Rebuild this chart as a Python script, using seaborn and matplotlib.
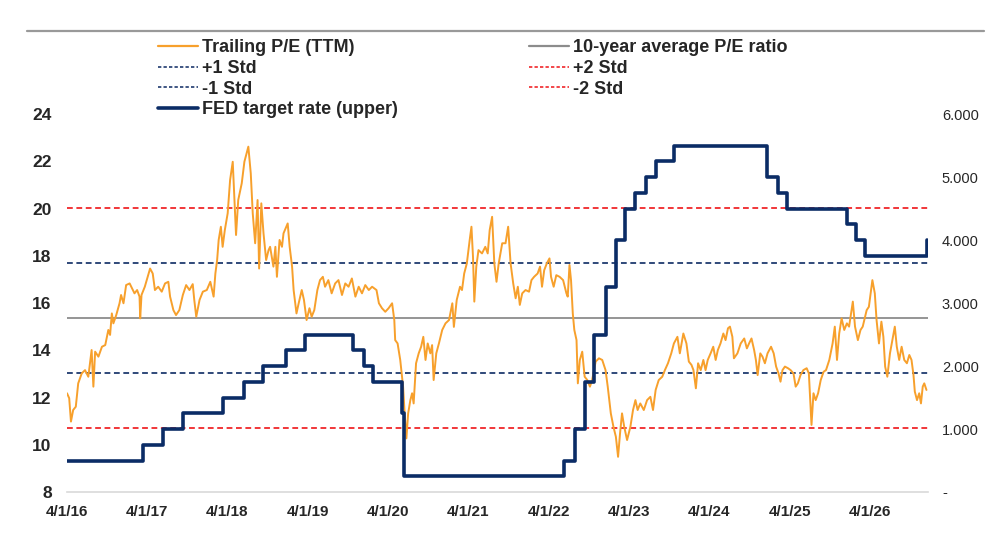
import matplotlib
matplotlib.use("Agg")
import matplotlib.pyplot as plt
from matplotlib.lines import Line2D
import pandas as pd
import seaborn as sns

# ---------------- data ----------------
pe_dates = [
    "2016-04-01", "2016-04-11", "2016-04-19", "2016-04-29", "2016-05-11", "2016-05-22",
    "2016-06-07", "2016-06-22", "2016-07-07", "2016-07-22", "2016-07-30", "2016-08-07",
    "2016-08-22", "2016-09-07", "2016-09-22", "2016-10-06", "2016-10-14", "2016-10-22",
    "2016-10-29", "2016-11-11", "2016-11-26", "2016-12-03", "2016-12-14", "2016-12-26",
    "2017-01-11", "2017-01-22", "2017-02-02", "2017-02-14", "2017-02-25", "2017-02-28",
    "2017-03-06", "2017-03-21", "2017-04-01", "2017-04-14", "2017-04-26", "2017-05-06",
    "2017-05-21", "2017-06-06", "2017-06-21", "2017-07-06", "2017-07-14", "2017-07-29",
    "2017-08-10", "2017-08-25", "2017-09-10", "2017-09-25", "2017-10-10", "2017-10-25",
    "2017-11-01", "2017-11-10", "2017-11-25", "2017-12-10", "2017-12-28", "2018-01-13",
    "2018-01-28", "2018-02-05", "2018-02-13", "2018-02-20", "2018-03-02", "2018-03-10",
    "2018-03-20", "2018-04-02", "2018-04-13", "2018-04-25", "2018-05-02", "2018-05-10",
    "2018-05-20", "2018-06-05", "2018-06-17", "2018-07-05", "2018-07-16", "2018-07-25",
    "2018-08-05", "2018-08-16", "2018-08-23", "2018-09-02", "2018-09-12", "2018-09-24",
    "2018-10-05", "2018-10-12", "2018-10-27", "2018-11-05", "2018-11-12", "2018-11-24",
    "2018-12-05", "2018-12-12", "2018-12-31", "2019-01-09", "2019-01-20", "2019-01-27",
    "2019-02-09", "2019-02-19", "2019-03-05", "2019-03-15", "2019-03-27", "2019-04-09",
    "2019-04-19", "2019-05-01", "2019-05-15", "2019-05-27", "2019-06-09", "2019-06-19",
    "2019-07-04", "2019-07-19", "2019-08-04", "2019-08-19", "2019-09-04", "2019-09-19",
    "2019-10-04", "2019-10-19", "2019-11-04", "2019-11-19", "2019-12-04", "2019-12-19",
    "2020-01-04", "2020-01-19", "2020-02-08", "2020-02-19", "2020-03-04", "2020-03-19",
    "2020-04-03", "2020-04-19", "2020-04-29", "2020-05-03", "2020-05-14", "2020-05-26",
    "2020-06-08", "2020-06-15", "2020-06-23", "2020-07-01", "2020-07-11", "2020-07-19",
    "2020-07-26", "2020-08-06", "2020-08-18", "2020-08-29", "2020-09-08", "2020-09-18",
    "2020-09-28", "2020-10-10", "2020-10-18", "2020-10-25", "2020-11-06", "2020-11-18",
    "2020-12-03", "2020-12-18", "2021-01-03", "2021-01-18", "2021-01-25", "2021-02-07",
    "2021-02-22", "2021-03-03", "2021-03-13", "2021-03-25", "2021-04-07", "2021-04-15",
    "2021-04-22", "2021-04-28", "2021-05-07", "2021-05-17", "2021-06-02", "2021-06-17",
    "2021-06-28", "2021-07-07", "2021-07-18", "2021-07-28", "2021-08-07", "2021-08-17",
    "2021-09-02", "2021-09-17", "2021-09-29", "2021-10-10", "2021-10-22", "2021-11-02",
    "2021-11-12", "2021-11-21", "2021-12-02", "2021-12-17", "2022-01-02", "2022-01-13",
    "2022-01-25", "2022-02-10", "2022-02-21", "2022-03-02", "2022-03-12", "2022-03-24",
    "2022-04-05", "2022-04-12", "2022-04-24", "2022-05-06", "2022-05-21", "2022-06-06",
    "2022-06-21", "2022-06-27", "2022-07-05", "2022-07-12", "2022-07-20", "2022-07-27",
    "2022-08-06", "2022-08-12", "2022-08-21", "2022-09-01", "2022-09-12", "2022-09-24",
    "2022-10-06", "2022-10-16", "2022-11-01", "2022-11-16", "2022-12-01", "2022-12-16",
    "2022-12-26", "2023-01-09", "2023-01-21", "2023-02-01", "2023-02-11", "2023-02-20",
    "2023-03-01", "2023-03-11", "2023-03-24", "2023-04-08", "2023-04-20", "2023-05-01",
    "2023-05-11", "2023-05-23", "2023-06-08", "2023-06-23", "2023-07-08", "2023-07-20",
    "2023-08-01", "2023-08-15", "2023-08-31", "2023-09-12", "2023-09-26", "2023-10-11",
    "2023-10-23", "2023-11-08", "2023-11-19", "2023-12-05", "2023-12-19", "2023-12-30",
    "2024-01-11", "2024-01-20", "2024-01-31", "2024-02-10", "2024-02-22", "2024-03-05",
    "2024-03-15", "2024-03-25", "2024-04-07", "2024-04-19", "2024-04-30", "2024-05-10",
    "2024-05-22", "2024-06-04", "2024-06-14", "2024-06-25", "2024-07-04", "2024-07-15",
    "2024-07-22", "2024-08-07", "2024-08-22", "2024-09-07", "2024-09-19", "2024-09-29",
    "2024-10-10", "2024-10-22", "2024-10-30", "2024-11-07", "2024-11-19", "2024-11-29",
    "2024-12-10", "2024-12-22", "2025-01-07", "2025-01-19", "2025-01-30", "2025-02-10",
    "2025-02-19", "2025-02-28", "2025-03-11", "2025-03-25", "2025-04-06", "2025-04-19",
    "2025-04-29", "2025-05-09", "2025-05-21", "2025-06-03", "2025-06-18", "2025-06-28",
    "2025-07-10", "2025-07-19", "2025-07-29", "2025-08-09", "2025-08-21", "2025-09-03",
    "2025-09-14", "2025-09-29", "2025-10-14", "2025-10-24", "2025-11-03", "2025-11-13",
    "2025-11-24", "2025-12-06", "2025-12-18", "2025-12-28", "2026-01-14", "2026-01-24",
    "2026-02-06", "2026-02-18", "2026-02-28", "2026-03-09", "2026-03-18", "2026-03-28",
    "2026-04-13", "2026-04-24", "2026-05-02", "2026-05-13", "2026-05-24", "2026-06-02",
    "2026-06-10", "2026-06-20", "2026-07-02", "2026-07-13", "2026-07-24", "2026-08-02",
    "2026-08-13", "2026-08-24", "2026-09-05", "2026-09-17", "2026-09-28", "2026-10-08",
    "2026-10-17", "2026-10-23", "2026-11-02", "2026-11-12", "2026-11-20", "2026-11-28",
    "2026-12-05", "2026-12-15",
]
pe_values = [
    12.18, 11.97, 10.98, 11.47, 11.61, 12.60,
    13.02, 13.16, 12.88, 14.01, 12.46, 13.94,
    13.73, 14.15, 14.22, 14.86, 14.65, 15.56,
    15.14, 15.49, 15.99, 16.34, 15.99, 16.76,
    16.83, 16.62, 16.41, 16.55, 16.27, 15.35,
    16.34, 16.69, 17.04, 17.46, 17.25, 16.55,
    16.69, 16.48, 16.83, 16.90, 16.27, 15.70,
    15.49, 15.70, 16.34, 16.76, 16.55, 16.80,
    16.13, 15.42, 16.13, 16.48, 16.55, 16.90,
    16.27, 17.25, 17.82, 18.67, 19.23, 18.38,
    19.09, 19.80, 21.21, 21.98, 20.50, 18.88,
    20.36, 21.07, 21.98, 22.62, 21.49, 19.80,
    18.53, 20.36, 17.46, 20.22, 18.95, 17.82,
    18.24, 18.38, 17.54, 18.38, 17.11, 18.67,
    18.38, 18.95, 19.37, 18.38, 17.54, 16.55,
    15.56, 15.99, 16.55, 16.13, 15.28, 15.78,
    15.42, 15.70, 16.55, 16.97, 17.11, 16.69,
    16.97, 16.41, 16.83, 16.97, 16.34, 16.83,
    16.69, 17.04, 16.27, 16.69, 16.41, 16.76,
    16.55, 16.69, 16.55, 15.99, 15.78, 15.63,
    15.78, 15.99, 15.28, 14.43, 14.29, 13.59,
    12.46, 11.33, 10.27, 11.33, 11.89, 12.18,
    11.75, 13.45, 13.87, 14.15, 14.57, 13.59,
    14.29, 13.87, 14.22, 12.74, 13.87, 14.29,
    14.86, 15.14, 15.28, 15.99, 14.99, 16.13,
    16.69, 16.55, 17.25, 17.68, 18.67, 19.23,
    17.96, 16.06, 17.54, 18.24, 18.10, 18.38,
    18.10, 19.09, 19.65, 17.68, 16.90, 17.68,
    18.53, 18.53, 19.23, 17.68, 16.83, 16.20,
    16.69, 15.92, 16.41, 16.55, 16.48, 16.97,
    17.11, 17.25, 17.54, 16.69, 17.39, 17.68,
    17.89, 17.11, 16.69, 17.18, 17.11, 16.97,
    16.41, 16.27, 17.61, 16.97, 15.56, 14.86,
    14.43, 12.60, 13.59, 13.94, 12.88, 12.74,
    12.46, 12.74, 13.52, 13.66, 13.59, 13.16,
    12.46, 11.33, 10.76, 10.34, 9.49, 10.48,
    11.33, 10.76, 10.20, 10.76, 11.47, 11.89,
    11.47, 11.75, 11.47, 11.89, 12.03, 11.47,
    12.32, 12.74, 12.88, 13.16, 13.45, 13.87,
    14.29, 14.57, 13.87, 14.71, 14.29, 13.52,
    13.38, 13.16, 12.39, 13.45, 13.16, 13.59,
    13.16, 13.59, 13.87, 14.15, 13.59, 14.01,
    14.29, 14.71, 14.43, 14.93, 15.00, 14.57,
    13.66, 13.87, 14.29, 14.50, 14.08, 14.29,
    14.50, 14.01, 13.59, 12.95, 13.87, 13.73,
    13.45, 13.87, 14.15, 13.87, 13.31, 13.02,
    12.67, 13.16, 13.31, 13.24, 13.16, 13.02,
    12.46, 12.60, 12.95, 13.16, 13.24, 13.02,
    10.84, 12.18, 11.89, 12.18, 12.74, 13.09,
    13.16, 13.59, 14.29, 15.00, 13.59, 14.71,
    15.35, 14.86, 15.14, 15.00, 16.06, 15.00,
    14.43, 14.86, 15.00, 15.35, 15.70, 15.84,
    16.97, 16.41, 15.28, 14.29, 15.21, 14.57,
    13.31, 12.88, 13.87, 14.43, 15.00, 14.15,
    13.59, 14.15, 13.59, 13.45, 13.80, 13.59,
    12.95, 12.25, 11.89, 12.18, 11.75, 12.46,
    12.60, 12.32,
]

fed_dates = [
    "2016-04-01", "2017-03-12", "2017-06-12", "2017-09-12", "2018-03-11", "2018-06-15",
    "2018-09-11", "2018-12-24", "2019-03-20", "2019-10-25", "2019-12-14", "2020-01-25",
    "2020-06-03", "2020-06-10", "2022-06-09", "2022-07-29", "2022-09-12", "2022-10-24",
    "2022-12-19", "2023-02-02", "2023-03-15", "2023-05-01", "2023-06-19", "2023-08-01",
    "2023-10-23", "2024-12-19", "2025-02-09", "2025-03-19", "2025-12-18", "2026-01-27",
    "2026-03-09", "2026-12-17",
]
fed_rates = [
    0.50, 0.75, 1.00, 1.25, 1.50, 1.75,
    2.00, 2.25, 2.50, 2.25, 2.00, 1.75,
    1.25, 0.25, 0.50, 1.00, 1.75, 2.50,
    3.25, 4.00, 4.50, 4.75, 5.00, 5.25,
    5.50, 5.00, 4.75, 4.50, 4.25, 4.00,
    3.75, 4.00,
]

pe_average = 15.37     # 10-year average P/E
pe_std = 2.33          # standard deviation

x_tick_dates = ["2016-04-01", "2017-04-01", "2018-04-01", "2019-04-01", "2020-04-01",
                "2021-04-01", "2022-04-01", "2023-04-01", "2024-04-01", "2025-04-01",
                "2026-04-01"]
x_tick_labels = ["4/1/16", "4/1/17", "4/1/18", "4/1/19", "4/1/20", "4/1/21",
                 "4/1/22", "4/1/23", "4/1/24", "4/1/25", "4/1/26"]
x_range = ["2016-04-01", "2026-12-22"]
left_ticks = [8, 10, 12, 14, 16, 18, 20, 22, 24]
right_ticks = [0, 1, 2, 3, 4, 5, 6]

legend_labels = ["Trailing P/E (TTM)", "+1 Std", "-1 Std", "FED target rate (upper)",
                 "10-year average P/E ratio", "+2 Std", "-2 Std"]

# ---------------- styling ----------------
sns.set_style("white")
plt.rcParams["font.family"] = ["Liberation Sans", "DejaVu Sans"]

ORANGE = "#F7A02C"
NAVY = "#0B2C66"
DNAVY = "#1F3A6E"
RED = "#F0262A"
GREY = "#8C8C8C"

pe_df = pd.DataFrame({"date": pd.to_datetime(pe_dates), "pe": pe_values})
fed_df = pd.DataFrame({"date": pd.to_datetime(fed_dates), "rate": fed_rates})

fig = plt.figure(figsize=(10, 5.38), dpi=100)
ax = fig.add_axes([0.067, 0.0855, 0.861, 0.7025])
ax2 = ax.twinx()

dash = (0, (3.2, 2.0))
ax.axhline(pe_average + pe_std, color=DNAVY, lw=1.3, ls=dash, zorder=1)
ax.axhline(pe_average - pe_std, color=DNAVY, lw=1.3, ls=dash, zorder=1)
ax.axhline(pe_average + 2 * pe_std, color=RED, lw=1.3, ls=dash, zorder=1)
ax.axhline(pe_average - 2 * pe_std, color=RED, lw=1.3, ls=dash, zorder=1)
ax.axhline(pe_average, color=GREY, lw=1.3, zorder=1)

sns.lineplot(data=pe_df, x="date", y="pe", ax=ax, color=ORANGE, lw=1.4, zorder=3)
sns.lineplot(data=fed_df, x="date", y="rate", ax=ax2, color=NAVY, lw=2.6,
             drawstyle="steps-post", zorder=4)

ax.set_xlim(pd.to_datetime(x_range[0]), pd.to_datetime(x_range[1]))
ax.set_ylim(left_ticks[0], left_ticks[-1])
ax2.set_ylim(right_ticks[0], right_ticks[-1])

ax.set_yticks(left_ticks)
ax.set_yticklabels([str(t) for t in left_ticks], fontsize=12.5, fontweight="bold")
ax2.set_yticks(right_ticks)
ax2.set_yticklabels(["-" if t == 0 else f"{t:.3f}" for t in right_ticks],
                    fontsize=10.5, color="#262626")
ax.set_xticks(pd.to_datetime(x_tick_dates))
ax.set_xticklabels(x_tick_labels, fontsize=11, fontweight="bold")

for a in (ax, ax2):
    a.set_xlabel("")
    a.set_ylabel("")
    for s in ("top", "left", "right", "bottom"):
        a.spines[s].set_visible(False)
ax.spines["bottom"].set_visible(True)
ax.spines["bottom"].set_color("#D9D9D9")
ax.spines["bottom"].set_linewidth(1.2)

ax.tick_params(axis="y", length=0, pad=11)
ax2.tick_params(axis="y", length=0, pad=10)
ax.tick_params(axis="x", length=4, color="#D9D9D9", pad=5)

# top rule
fig.add_artist(Line2D([0.027, 0.984], [1 - 31 / 538] * 2, transform=fig.transFigure,
                      color="#999999", lw=1.6))

handles = [
    Line2D([], [], color=ORANGE, lw=1.6),
    Line2D([], [], color=DNAVY, lw=1.2, ls=(0, (2, 1.3))),
    Line2D([], [], color=DNAVY, lw=1.2, ls=(0, (2, 1.3))),
    Line2D([], [], color=NAVY, lw=2.6),
    Line2D([], [], color=GREY, lw=1.6),
    Line2D([], [], color=RED, lw=1.2, ls=(0, (2, 1.3))),
    Line2D([], [], color=RED, lw=1.2, ls=(0, (2, 1.3))),
]
fig.legend(handles, legend_labels, ncol=2, loc="upper left",
           bbox_to_anchor=(0.158, 1 - 39.5 / 538), frameon=False,
           prop={"weight": "bold", "size": 13}, handlelength=2.2, handletextpad=0.22,
           columnspacing=7.3, labelspacing=0.2, borderpad=0, borderaxespad=0)

fig.savefig("out.png", dpi=100)
